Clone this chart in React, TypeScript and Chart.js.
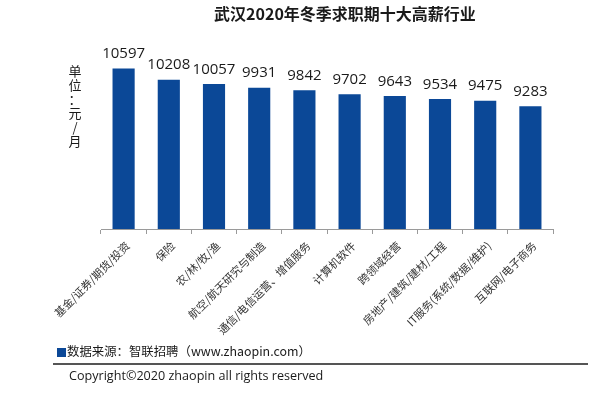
import React, { useEffect, useRef } from "react";
import { Chart, registerables } from "chart.js";

Chart.register(...registerables);

const title = "武汉2020年冬季求职期十大高薪行业";
const categories = [
  "基金/证券/期货/投资",
  "保险",
  "农/林/牧/渔",
  "航空/航天研究与制造",
  "通信/电信运营、增值服务",
  "计算机软件",
  "跨领域经营",
  "房地产/建筑/建材/工程",
  "IT服务(系统/数据/维护)",
  "互联网/电子商务",
];
const salaries = [10597, 10208, 10057, 9931, 9842, 9702, 9643, 9534, 9475, 9283];
const yMin = 5000;
const yMax = 11000;
const unitLabel = ["单", "位", "：", "元", "/", "月"];
const sourceText = "数据来源：智联招聘（www.zhaopin.com）";
const copyrightText = "Copyright©2020 zhaopin all rights reserved";

const BAR_COLOR = "#0B4897";
const CJK = '"Noto Sans CJK SC", "Noto Sans", sans-serif';

const valueLabels = {
  id: "valueLabels",
  afterDatasetsDraw(chart: any) {
    const ctx = chart.ctx;
    const meta = chart.getDatasetMeta(0);
    ctx.save();
    ctx.fillStyle = "#1a1a1a";
    ctx.font = '15px "Open Sans", sans-serif';
    ctx.textAlign = "center";
    ctx.textBaseline = "bottom";
    meta.data.forEach((el: any, i: number) => {
      ctx.fillText(String(salaries[i]), el.x, el.y - 7);
    });
    ctx.restore();
  },
};

export default function App() {
  const ref = useRef<HTMLCanvasElement | null>(null);

  useEffect(() => {
    if (!ref.current) return;
    const chart = new Chart(ref.current, {
      type: "bar",
      data: {
        labels: categories,
        datasets: [
          {
            data: salaries,
            backgroundColor: BAR_COLOR,
            borderWidth: 0,
            categoryPercentage: 1,
            barPercentage: 0.49,
          },
        ],
      },
      options: {
        responsive: false,
        animation: false,
        layout: { padding: { left: 101, right: 47, top: 57, bottom: 0 } },
        plugins: {
          legend: { display: false },
          tooltip: { enabled: false },
          title: { display: false },
        },
        scales: {
          x: {
            grid: {
              display: true,
              drawOnChartArea: false,
              drawTicks: true,
              tickLength: 5,
              color: "#9a9a9a",
              offset: true,
            },
            border: { display: true, color: "#9a9a9a", width: 1 },
            ticks: {
              minRotation: 45,
              maxRotation: 45,
              autoSkip: false,
              color: "#333333",
              padding: 5,
              labelOffset: 4,
              font: { family: CJK, size: 11 },
            },
            afterFit(scale: any) {
              scale.height = 398 - 229;
              scale.paddingLeft = 0;
              scale.paddingRight = 0;
            },
          },
          y: {
            display: false,
            min: yMin,
            max: yMax,
          },
        },
      },
      plugins: [valueLabels],
    });
    return () => chart.destroy();
  }, []);

  return (
    <div
      style={{
        position: "absolute",
        left: 0,
        top: 0,
        width: 600,
        height: 398,
        background: "#ffffff",
        overflow: "hidden",
        fontFamily: CJK,
      }}
    >
      <canvas ref={ref} width={600} height={398} style={{ position: "absolute", left: 0, top: 0 }} />
      <div
        style={{
          position: "absolute",
          left: 195,
          top: 1,
          width: 300,
          textAlign: "center",
          fontSize: 16,
          fontWeight: 700,
          color: "#1a1a1a",
          whiteSpace: "nowrap",
          lineHeight: "24px",
        }}
      >
        {title}
      </div>
      <div
        style={{
          position: "absolute",
          left: 66,
          top: 64,
          width: 18,
          textAlign: "center",
          fontSize: 13,
          lineHeight: "14px",
          color: "#1a1a1a",
        }}
      >
        {unitLabel.map((c, i) => (
          <div key={i}>{c}</div>
        ))}
      </div>
      <div
        style={{
          position: "absolute",
          left: 57,
          top: 348,
          width: 9,
          height: 9,
          background: BAR_COLOR,
        }}
      />
      <div
        style={{
          position: "absolute",
          left: 67,
          top: 342,
          fontSize: 12.4,
          lineHeight: "18px",
          color: "#1a1a1a",
          whiteSpace: "nowrap",
        }}
      >
        {sourceText}
      </div>
      <div
        style={{
          position: "absolute",
          left: 53,
          top: 363,
          width: 535,
          height: 2,
          background: "#555555",
        }}
      />
      <div
        style={{
          position: "absolute",
          left: 69,
          top: 367,
          fontSize: 12.6,
          lineHeight: "18px",
          color: "#1a1a1a",
          whiteSpace: "nowrap",
          fontFamily: '"Open Sans", sans-serif',
        }}
      >
        {copyrightText}
      </div>
    </div>
  );
}
